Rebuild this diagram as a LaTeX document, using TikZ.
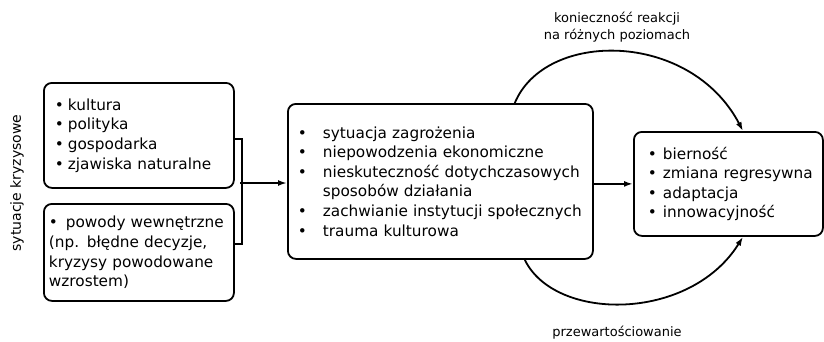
\documentclass[tikz,border=0pt]{standalone}
\usepackage{fontspec}
\setmainfont{DejaVu Sans}
\usetikzlibrary{arrows.meta,calc}
\newcommand{\bl}[2]{\mbox{\makebox[#1][l]{\textbullet}#2}}
\begin{document}
\begin{tikzpicture}[x=1pt,y=-1pt,
  box/.style={draw,line width=1.8pt,rounded corners=8pt,anchor=north west,align=left,inner ysep=0pt,font=\fontsize{15.3}{19.6}\selectfont},
  conn/.style={line width=1.8pt},
  arr/.style={conn,-{Latex[length=9pt,width=6pt]}},
  lbl/.style={font=\fontsize{13}{17}\selectfont,align=center,inner sep=0pt}]
\useasboundingbox (0,0) rectangle (824,341);
\node[box,minimum width=190pt,minimum height=105pt,inner xsep=11pt,text width=168pt] (b1) at (43,82)
  {\bl{13pt}{kultura}\\\bl{13pt}{polityka}\\\bl{13pt}{gospodarka}\\\bl{13pt}{zjawiska naturalne}};
\node[box,minimum width=190pt,minimum height=97pt,inner xsep=5pt,text width=180pt] (b2) at (43,203)
  {\bl{17pt}{powody wewnętrzne}\\\mbox{(np. błędne decyzje,}\\\mbox{kryzysy powodowane}\\\mbox{wzrostem)}};
\node[box,minimum width=305pt,minimum height=155pt,inner xsep=10pt,text width=285pt] (b3) at (287,103)
  {\bl{25pt}{sytuacja zagrożenia}\\\bl{25pt}{niepowodzenia ekonomiczne}\\\bl{25pt}{nieskuteczność dotychczasowych}\\\mbox{\hspace*{25pt}sposobów działania}\\\bl{25pt}{zachwianie instytucji społecznych}\\\bl{25pt}{trauma kulturowa}};
\node[box,minimum width=189pt,minimum height=104pt,inner xsep=14pt,text width=161pt] (b4) at (633,131)
  {\bl{15pt}{bierność}\\\bl{15pt}{zmiana regresywna}\\\bl{15pt}{adaptacja}\\\bl{15pt}{innowacyjność}};
\node[rotate=90,font=\fontsize{14}{17}\selectfont,inner sep=0pt] (l0) at (17,183) {sytuacje kryzysowe};
\node[lbl] (l1) at (617,27) {konieczność reakcji\\na różnych poziomach};
\node[lbl] (l2) at (617,333) {przewartościowanie};
\coordinate (j) at (240,183);
\draw[conn] ([yshift=-3.5pt]b1.east) -- ++(7,0) |- ([yshift=8.5pt]b2.east);
\draw[arr] (j) -- (j -| b3.west);
\draw[arr] (b3.east |- b4.west) -- (b4.west);
\coordinate (t1) at ([xshift=-79pt]b3.north east);
\coordinate (t2) at ([xshift=110pt]b4.north west);
\coordinate (s1) at ([xshift=-69pt]b3.south east);
\coordinate (s2) at ([xshift=110pt]b4.south west);
\draw[arr] (t1) .. controls (545,30) and (690,30) .. (t2);
\draw[arr] (s1) .. controls (555,322) and (690,322) .. (s2);
\end{tikzpicture}
\end{document}
